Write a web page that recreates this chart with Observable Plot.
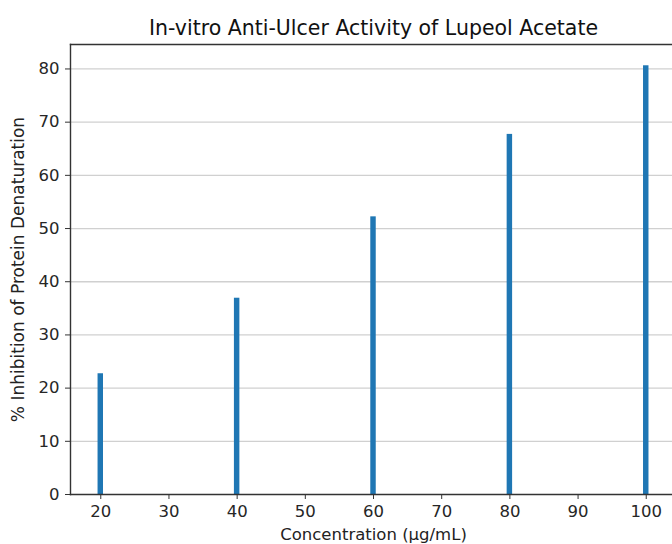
<!DOCTYPE html>
<html>
<head>
<meta charset="utf-8">
<script src="https://cdn.jsdelivr.net/npm/d3@7"></script>
<script src="https://cdn.jsdelivr.net/npm/@observablehq/plot@0.6"></script>
<style>
  html, body { margin: 0; padding: 0; background: #fff; }
  #chart svg { display: block; }
</style>
</head>
<body>
<div id="chart"></div>
<script>
const concentrations = [20, 40, 60, 80, 100];
const inhibition = [22.7, 36.9, 52.2, 67.7, 80.6];
const xTicks = [20, 30, 40, 50, 60, 70, 80, 90, 100];
const yTicks = [0, 10, 20, 30, 40, 50, 60, 70, 80];
const titleText = "In-vitro Anti-Ulcer Activity of Lupeol Acetate";
const xLabel = "Concentration (µg/mL)";
const yLabel = "% Inhibition of Protein Denaturation";

const data = concentrations.map((c, i) => ({c, v: inhibition[i]}));
const barHalf = 0.4;
const font = "DejaVu Sans, sans-serif";

const chart = Plot.plot({
  width: 672,
  height: 544,
  marginTop: 44,
  marginBottom: 50,
  marginLeft: 70,
  marginRight: 0,
  style: {fontFamily: font, fontSize: "16px", color: "#262626", background: "#fff"},
  x: {domain: [15.56, 103.85]},
  y: {domain: [0, 84.6]},
  marks: [
    Plot.ruleY(yTicks.slice(1), {stroke: "#b0b0b0", strokeOpacity: 0.6, strokeWidth: 1.3}),
    Plot.rectY(data, {x1: d => d.c - barHalf, x2: d => d.c + barHalf, y1: 0, y2: "v", fill: "#1f77b4"}),
    Plot.axisX(xTicks, {tickSize: 5, tickPadding: 6, fontSize: 16.5, label: null, stroke: "#333"}),
    Plot.axisY(yTicks, {tickSize: 5, tickPadding: 6, fontSize: 16.5, label: null, stroke: "#333"}),
    Plot.frame({anchor: "top", stroke: "#333", strokeWidth: 1.4}),
    Plot.frame({anchor: "left", stroke: "#333", strokeWidth: 1.4}),
    Plot.frame({anchor: "bottom", stroke: "#333", strokeWidth: 1.4}),
    Plot.text([titleText], {frameAnchor: "top", dx: 2, dy: -24, fontSize: 20.5, fill: "#111", text: d => d}),
    Plot.text([xLabel], {frameAnchor: "bottom", dx: 2, dy: 45, fontSize: 16.5, fill: "#222", text: d => d}),
    Plot.text([yLabel], {frameAnchor: "left", dx: -52, rotate: -90, textAnchor: "middle", fontSize: 17, fill: "#222", text: d => d})
  ]
});
document.getElementById("chart").appendChild(chart);
</script>
</body>
</html>
